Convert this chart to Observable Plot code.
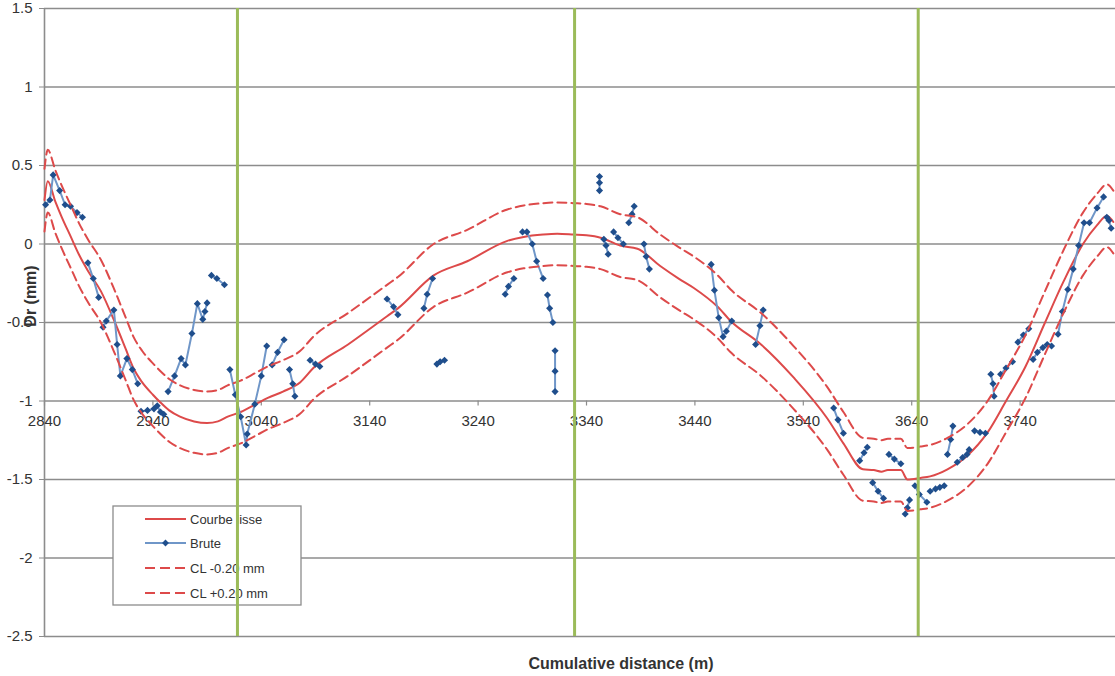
<!DOCTYPE html>
<html><head><meta charset="utf-8">
<script src="https://cdn.jsdelivr.net/npm/d3@7"></script>
<script src="https://cdn.jsdelivr.net/npm/@observablehq/plot@0.6"></script>
<style>
body{margin:0;background:#fff;}
#chart{width:1115px;height:676px;}
</style></head><body><div id="chart"></div>
<script>
// ---- data ----
const smoothDist = [2840,2843,2850,2856,2864,2872,2880,2892,2905,2915,2922,2930,2940,2947,2955,2965,2978,2990,3000,3009,3021,3035,3046,3060,3076,3088,3120,3156,3166,3199,3230,3267,3282,3300,3313,3328,3340,3353,3371,3387,3408,3425,3439,3461,3473,3501,3531,3562,3577,3595,3605,3612,3618,3630,3636,3648,3657,3673,3691,3710,3727,3745,3763,3780,3798,3811,3820,3826];
const smoothVal  = [0.28,0.40,0.27,0.17,0.05,-0.07,-0.17,-0.30,-0.50,-0.67,-0.79,-0.88,-0.96,-1.01,-1.06,-1.10,-1.13,-1.14,-1.13,-1.10,-1.07,-1.02,-0.98,-0.94,-0.88,-0.79,-0.64,-0.46,-0.41,-0.20,-0.11,0.02,0.045,0.06,0.065,0.06,0.055,0.04,-0.01,-0.03,-0.14,-0.22,-0.28,-0.40,-0.49,-0.64,-0.85,-1.11,-1.27,-1.435,-1.44,-1.45,-1.44,-1.44,-1.50,-1.49,-1.48,-1.435,-1.35,-1.20,-1.00,-0.78,-0.50,-0.24,0.00,0.12,0.18,0.14];
const clMinusVal = [0.08,0.20,0.07,-0.03,-0.15,-0.27,-0.37,-0.50,-0.70,-0.87,-0.99,-1.08,-1.16,-1.21,-1.26,-1.30,-1.33,-1.34,-1.33,-1.30,-1.27,-1.22,-1.18,-1.14,-1.08,-0.99,-0.84,-0.66,-0.61,-0.40,-0.31,-0.18,-0.155,-0.14,-0.135,-0.14,-0.145,-0.16,-0.21,-0.23,-0.34,-0.42,-0.48,-0.60,-0.69,-0.84,-1.05,-1.31,-1.47,-1.635,-1.64,-1.65,-1.64,-1.64,-1.70,-1.69,-1.68,-1.635,-1.55,-1.40,-1.20,-0.98,-0.70,-0.44,-0.20,-0.08,-0.02,-0.06];
const clPlusVal  = [0.48,0.60,0.47,0.37,0.25,0.13,0.03,-0.10,-0.30,-0.47,-0.59,-0.68,-0.76,-0.81,-0.86,-0.90,-0.93,-0.94,-0.93,-0.90,-0.87,-0.82,-0.78,-0.74,-0.68,-0.59,-0.44,-0.26,-0.21,0.00,0.09,0.22,0.245,0.26,0.265,0.26,0.255,0.24,0.19,0.17,0.06,-0.02,-0.08,-0.20,-0.29,-0.44,-0.65,-0.91,-1.07,-1.235,-1.24,-1.25,-1.24,-1.24,-1.30,-1.29,-1.28,-1.235,-1.15,-1.00,-0.80,-0.58,-0.30,-0.04,0.20,0.32,0.38,0.34];

// raw measurements; null marks a break in the line
const bruteDist = [2841,2845,2848,2854,2859,2864,2870,2875,null,
  2880,2885,2890,null,
  2894,2897,2904,2907,2910,2916,2921,2926,null,
  2929,2935,2941,2944,2947,2950,null,
  2954,2960,2966,2970,2976,2981,2986,2988,2990,null,
  2994,2999,3006,null,
  3011,3016,3021,3026,3027,3034,3040,3045,null,
  3050,3055,3061,null,
  3066,3069,3071,null,
  3085,3090,3094,null,
  3156,3162,3166,null,
  3190,3193,3198,null,
  3202,3205,3209,null,
  3265,3268,3273,null,
  3281,3285,3290,3294,3300,null,
  3304,3306,3309,null,
  3311,3311,3311,null,
  3352,3352,3352,null,
  3356,3358,3360,null,
  3365,3369,3374,null,
  3379,3382,3384,null,
  3393,3395,3398,null,
  3455,3458,3462,3466,3469,3474,null,
  3496,3500,3503,null,
  3568,3572,3577,null,
  3592,3596,3599,null,
  3604,3609,3614,null,
  3619,3624,3630,null,
  3634,3636,3638,null,
  3643,3647,3654,null,
  3657,3662,3666,3670,null,
  3673,3676,3678,null,
  3682,3687,3691,3693,null,
  3698,3703,3708,null,
  3713,3715,3716,null,
  3722,3727,3733,null,
  3738,3743,3748,null,
  3752,3756,3761,3765,3769,null,
  3775,3779,3784,3789,3794,3799,3804,3811,3817,null,
  3820,3822,3824];
const bruteVal = [0.25,0.28,0.44,0.34,0.25,0.24,0.20,0.17,null,
  -0.12,-0.22,-0.34,null,
  -0.53,-0.49,-0.42,-0.64,-0.84,-0.73,-0.80,-0.89,null,
  -1.065,-1.06,-1.05,-1.03,-1.07,-1.085,null,
  -0.94,-0.84,-0.73,-0.77,-0.57,-0.38,-0.48,-0.43,-0.375,null,
  -0.20,-0.22,-0.26,null,
  -0.80,-0.96,-1.10,-1.28,-1.21,-1.02,-0.84,-0.65,null,
  -0.77,-0.69,-0.61,null,
  -0.80,-0.89,-0.97,null,
  -0.74,-0.765,-0.78,null,
  -0.35,-0.40,-0.45,null,
  -0.41,-0.32,-0.22,null,
  -0.765,-0.75,-0.74,null,
  -0.32,-0.27,-0.22,null,
  0.077,0.077,0.0,-0.11,-0.22,null,
  -0.325,-0.41,-0.50,null,
  -0.68,-0.81,-0.94,null,
  0.43,0.39,0.34,null,
  0.03,-0.01,-0.065,null,
  0.077,0.04,0.0,null,
  0.135,0.19,0.24,null,
  0.0,-0.08,-0.16,null,
  -0.13,-0.295,-0.47,-0.59,-0.555,-0.49,null,
  -0.64,-0.52,-0.42,null,
  -1.045,-1.12,-1.205,null,
  -1.38,-1.33,-1.295,null,
  -1.52,-1.575,-1.62,null,
  -1.34,-1.37,-1.40,null,
  -1.72,-1.68,-1.63,null,
  -1.54,-1.595,-1.645,null,
  -1.575,-1.56,-1.55,-1.54,null,
  -1.34,-1.245,-1.16,null,
  -1.39,-1.36,-1.34,-1.31,null,
  -1.19,-1.20,-1.205,null,
  -0.83,-0.89,-0.97,null,
  -0.83,-0.79,-0.75,null,
  -0.625,-0.58,-0.54,null,
  -0.735,-0.69,-0.66,-0.64,-0.65,null,
  -0.575,-0.43,-0.29,-0.16,-0.01,0.135,0.135,0.23,0.30,null,
  0.17,0.15,0.10];

const markerDist = [3018, 3329, 3646];
const xTicks = [2840,2940,3040,3140,3240,3340,3440,3540,3640,3740];
const yTicks = [-2.5,-2,-1.5,-1,-0.5,0,0.5,1,1.5];
const xAxisCross = -1;
const seriesNames = ["Courbe lisse","Brute","CL -0.20 mm","CL +0.20 mm"];
const xTitle = "Cumulative distance (m)";
const yTitle = "Dr (mm)";

// ---- build ----
const RED = "#dd4a4a", BLUE_LINE = "#6f96c8", BLUE_DOT = "#1f4e8c", GREEN = "#9bbb59", GRID = "#8c8c8c", TXT = "#333";
const FONT = "'Liberation Sans', Arial, sans-serif";
const smooth = smoothDist.map((d,i)=>({d, v: smoothVal[i]}));
const clMinus = smoothDist.map((d,i)=>({d, v: clMinusVal[i]}));
const clPlus = smoothDist.map((d,i)=>({d, v: clPlusVal[i]}));
const brute = bruteDist.map((d,i)=>({d, v: bruteVal[i]}));

const chart = Plot.plot({
  width: 1115, height: 676,
  marginLeft: 44, marginRight: 0, marginTop: 8, marginBottom: 40,
  x: {domain: [2840, 3828], axis: null},
  y: {domain: [-2.5, 1.5], axis: null},
  style: {fontFamily: FONT, background: "#fff", color: TXT},
  marks: [
    Plot.ruleY(yTicks, {stroke: GRID, strokeWidth: 1.6}),
    Plot.ruleX([2840], {stroke: GRID, strokeWidth: 1.6}),
    Plot.axisY(yTicks, {tickSize: 5, tickPadding: 7, fontSize: 15, stroke: GRID, fill: TXT, label: null, tickFormat: d => String(d)}),
    Plot.ruleX(xTicks, {y1: xAxisCross, y2: xAxisCross - 0.032, stroke: GRID, strokeWidth: 1.2}),
    Plot.text(xTicks, {x: d => d, y: xAxisCross, dy: 20, fontSize: 15, fill: TXT, text: d => String(d)}),
    Plot.line(smooth, {x: "d", y: "v", stroke: RED, strokeWidth: 2, curve: "monotone-x"}),
    Plot.line(brute, {x: "d", y: "v", stroke: BLUE_LINE, strokeWidth: 2}),
    Plot.dot(brute, {x: "d", y: "v", symbol: "diamond2", r: 3.2, fill: BLUE_DOT, stroke: "none"}),
    Plot.line(clMinus, {x: "d", y: "v", stroke: RED, strokeWidth: 2, strokeDasharray: "9,5", curve: "monotone-x"}),
    Plot.line(clPlus, {x: "d", y: "v", stroke: RED, strokeWidth: 2, strokeDasharray: "9,5", curve: "monotone-x"}),
    Plot.ruleX(markerDist, {stroke: GREEN, strokeWidth: 3})
  ]
});
document.getElementById("chart").appendChild(chart);

const svg = d3.select(chart);
// legend (drawn under the green marker rules, like the reference)
const lg = d3.create("svg:g").attr("font-family", FONT).attr("font-size", 13).attr("text-anchor", "start");
lg.append("rect").attr("x", 113).attr("y", 506).attr("width", 188).attr("height", 99)
  .attr("fill", "#fff").attr("stroke", "#8c8c8c").attr("stroke-width", 1.3);
const rowsY = [519, 543, 568, 593];
seriesNames.forEach((name, i) => {
  const y = rowsY[i];
  const ln = lg.append("line").attr("x1", 145).attr("x2", 186).attr("y1", y).attr("y2", y).attr("stroke-width", 2);
  if (i === 1) {
    ln.attr("stroke", BLUE_LINE);
    lg.append("path").attr("d", d3.symbol(d3.symbolDiamond2, 30)()).attr("transform", `translate(165.5,${y})`).attr("fill", BLUE_DOT);
  } else {
    ln.attr("stroke", RED);
    if (i > 1) ln.attr("stroke-dasharray", "10,5");
  }
  lg.append("text").attr("x", 190).attr("y", y).attr("dy", "0.35em").attr("text-anchor", "start").attr("fill", TXT).text(name);
});
const rules = chart.querySelectorAll("g[aria-label='rule']");
const lastRule = rules[rules.length - 1];
lastRule.parentNode.insertBefore(lg.node(), lastRule);

// axis titles
svg.append("text").attr("x", 621).attr("y", 663).attr("text-anchor", "middle").attr("dy", "0.35em")
  .attr("font-family", FONT).attr("font-size", 16).attr("font-weight", "bold").attr("fill", TXT).text(xTitle);
svg.append("text").attr("transform", "translate(30,296) rotate(-90)").attr("text-anchor", "middle").attr("dy", "0.35em")
  .attr("font-family", FONT).attr("font-size", 16).attr("font-weight", "bold").attr("fill", TXT).text(yTitle);
</script>
</body></html>
